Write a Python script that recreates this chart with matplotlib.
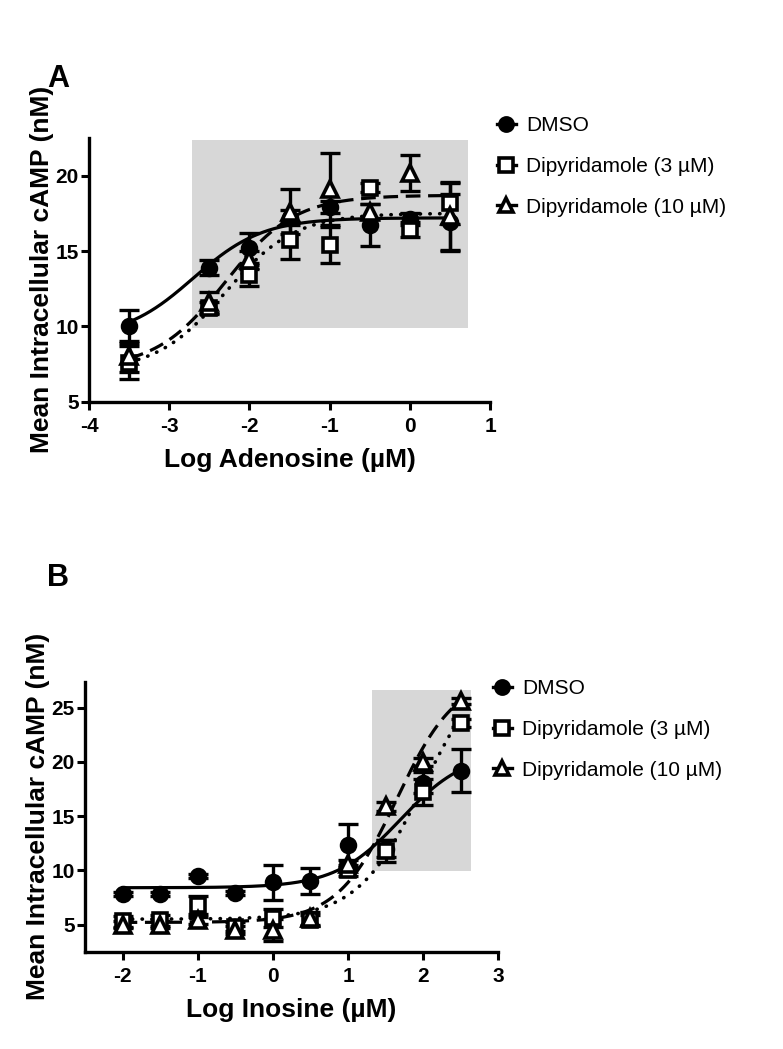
import numpy as np
import matplotlib
matplotlib.use("Agg")
import matplotlib.pyplot as plt
from matplotlib.patches import Rectangle
from matplotlib.lines import Line2D

plt.rcParams['font.family'] = ['Liberation Sans', 'DejaVu Sans']

# ---------------- data: panel A (adenosine) ----------------
a_x = [-3.5, -2.5, -2.0, -1.5, -1.0, -0.5, 0.0, 0.5]
a_dmso = [10.0, 13.9, 15.2, 17.2, 17.9, 16.7, 17.1, 16.9]
a_dmso_err = [1.1, 0.5, 1.0, 0.5, 0.4, 1.4, 0.4, 1.9]
a_dip3 = [7.6, 11.2, 13.4, 15.7, 15.4, 19.2, 16.4, 18.2]
a_dip3_err = [1.1, 0.4, 0.7, 1.2, 1.2, 0.3, 0.5, 1.4]
a_dip10 = [8.0, 11.6, 14.4, 17.6, 19.1, 17.6, 20.2, 17.3]
a_dip10_err = [1.0, 0.7, 0.6, 1.5, 2.4, 0.5, 1.2, 2.2]
# fitted curve parameters (bottom, top, logEC50, hill)
a_fit_dmso = [9.2, 17.2, -2.7, 1.0]
a_fit_dip3 = [7.0, 17.5, -2.3, 1.0]
a_fit_dip10 = [7.2, 18.7, -2.3, 1.0]

# ---------------- data: panel B (inosine) ----------------
b_x = [-2.0, -1.5, -1.0, -0.5, 0.0, 0.5, 1.0, 1.5, 2.0, 2.5]
b_dmso = [7.8, 7.8, 9.5, 7.9, 8.9, 9.0, 12.3, 12.0, 18.1, 19.2]
b_dmso_err = [0.2, 0.2, 0.2, 0.2, 1.6, 1.2, 2.0, 0.8, 1.0, 2.0]
b_dip3 = [5.3, 5.4, 6.8, 4.8, 5.6, 5.4, 10.0, 11.8, 17.2, 23.6]
b_dip3_err = [0.5, 0.5, 0.8, 0.4, 0.8, 0.5, 0.5, 1.0, 1.2, 0.4]
b_dip10 = [5.0, 5.0, 5.4, 4.5, 4.5, 5.6, 10.6, 15.9, 20.0, 25.6]
b_dip10_err = [0.3, 0.3, 0.3, 0.4, 1.0, 0.6, 0.4, 0.4, 0.4, 0.3]
b_fit_dmso = [8.4, 21.0, 1.7, 1.0]
b_fit_dip3 = [5.5, 30.0, 2.0, 1.0]
b_fit_dip10 = [5.2, 28.0, 1.65, 1.1]

labels = ['DMSO', 'Dipyridamole (3 \u00b5M)', 'Dipyridamole (10 \u00b5M)']
a_shade = [-2.71, 0.73, 9.9, 22.4]   # x0, x1, y0, y1
b_shade = [1.32, 2.64, 9.9, 26.6]


def four_pl(x, p):
    bottom, top, ec50, hill = p
    return bottom + (top - bottom) / (1 + 10 ** ((ec50 - x) * hill))


fig = plt.figure(figsize=(7.83, 10.49), dpi=100)
W, H = 783, 1049


def add_axes_px(l, t, r, b):
    return fig.add_axes([l / W, 1 - b / H, (r - l) / W, (b - t) / H])


axA = add_axes_px(89, 138, 490, 401.7)
axB = add_axes_px(85, 681.7, 498.3, 951.7)

styles = [
    dict(marker='o', mfc='black', ls='-'),
    dict(marker='s', mfc='white', ls=':'),
    dict(marker='^', mfc='white', ls='--'),
]


def draw(ax, x, series, errs, fits, shade, xlim, ylim, xticks, yticks, xlabel):
    x0, x1, y0, y1 = shade
    ax.add_patch(Rectangle((x0, y0), x1 - x0, y1 - y0, facecolor='#d7d7d7',
                           edgecolor='none', zorder=0))
    xs = np.linspace(min(x), max(x), 300)
    for st, p in zip(styles, fits):
        if st['ls'] == ':':
            ax.plot(xs, four_pl(xs, p), color='black', lw=2.6, ls=(0, (0.1, 2.6)),
                    dash_capstyle='round', zorder=3)
        elif st['ls'] == '--':
            ax.plot(xs, four_pl(xs, p), color='black', lw=2.3, ls=(0, (4.6, 2.4)), zorder=3)
        else:
            ax.plot(xs, four_pl(xs, p), color='black', lw=2.3, ls='-', zorder=3)
    for st, y, e in zip(styles, series, errs):
        ax.errorbar(x, y, yerr=e, fmt='none', ecolor='black', elinewidth=2.4,
                    capsize=7, capthick=2.4, zorder=4)
        ax.plot(x, y, ls='none', marker=st['marker'],
                ms=10 if st['marker'] != '^' else 11,
                mfc=st['mfc'], mec='black', mew=2.6, zorder=5)
    ax.set_xlim(*xlim)
    ax.set_ylim(*ylim)
    ax.set_xticks(xticks)
    ax.set_yticks(yticks)
    ax.set_xticklabels([str(t) for t in xticks])
    ax.set_yticklabels([str(t) for t in yticks])
    for s in ['top', 'right']:
        ax.spines[s].set_visible(False)
    for s in ['left', 'bottom']:
        ax.spines[s].set_linewidth(2.4)
    ax.tick_params(direction='out', length=6, width=2.2, labelsize=15)
    ax.tick_params(axis='x', pad=5)
    ax.tick_params(axis='y', pad=1.5)
    for lab in ax.get_xticklabels() + ax.get_yticklabels():
        lab.set_fontweight('bold')
    ax.set_xlabel(xlabel, fontsize=19, fontweight='bold', labelpad=9)
    ax.set_ylabel('Mean Intracellular cAMP (nM)', fontsize=19, fontweight='bold', labelpad=1)


draw(axA, a_x, [a_dmso, a_dip3, a_dip10], [a_dmso_err, a_dip3_err, a_dip10_err],
     [a_fit_dmso, a_fit_dip3, a_fit_dip10], a_shade, (-4, 1), (5, 22.5),
     [-4, -3, -2, -1, 0, 1], [5, 10, 15, 20], 'Log Adenosine (\u00b5M)')
draw(axB, b_x, [b_dmso, b_dip3, b_dip10], [b_dmso_err, b_dip3_err, b_dip10_err],
     [b_fit_dmso, b_fit_dip3, b_fit_dip10], b_shade, (-2.5, 3), (2.5, 27.4),
     [-2, -1, 0, 1, 2, 3], [5, 10, 15, 20, 25], 'Log Inosine (\u00b5M)')

handles = [Line2D([], [], color='black', lw=2.4, marker=st['marker'], ms=9.5,
                  mfc=st['mfc'], mec='black', mew=2.6) for st in styles]
for ax, (lx, ly) in [(axA, (497, 116)), (axB, (493, 679))]:
    fig.legend(handles, labels, loc='upper left', bbox_to_anchor=(lx / W, 1 - ly / H),
               frameon=False, fontsize=15, handlelength=0.9, handletextpad=0.5,
               labelspacing=1.05, borderpad=0, borderaxespad=0)

fig.text(58 / W, 1 - 79 / H, 'A', fontsize=22, fontweight='bold', ha='center', va='center')
fig.text(58 / W, 1 - 578 / H, 'B', fontsize=22, fontweight='bold', ha='center', va='center')

fig.savefig('out.png', dpi=100)
